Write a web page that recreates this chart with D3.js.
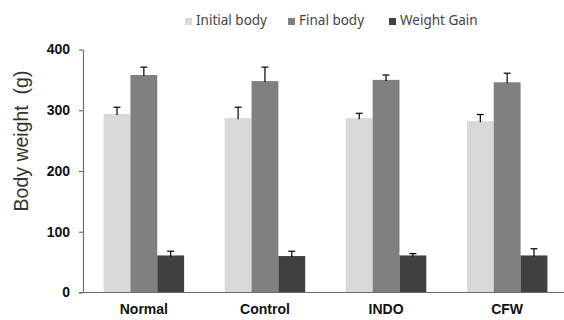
<!DOCTYPE html>
<html><head><meta charset="utf-8">
<script src="https://cdn.jsdelivr.net/npm/d3@7"></script>
<style>html,body{margin:0;padding:0;background:#fff;}svg{display:block;}</style>
</head><body>
<script>
const categories = ["Normal", "Control", "INDO", "CFW"];
const seriesNames = ["Initial body", "Final body", "Weight Gain"];
const initialBody = [294, 287, 287, 282];
const finalBody = [358, 348, 350, 346];
const weightGain = [61, 60, 61, 61];
const initialErr = [11, 18, 8, 11];
const finalErr = [13, 23, 8, 15];
const gainErr = [7, 8, 3, 11];
const yTicks = [0, 100, 200, 300, 400];
const colors = ["#d9d9d9", "#808080", "#404040"];

const values = [initialBody, finalBody, weightGain];
const errs = [initialErr, finalErr, gainErr];

const W = 564, H = 320;
const svg = d3.select("body").append("svg").attr("width", W).attr("height", H);

const y = d3.scaleLinear().domain([0, 400]).range([292.5, 49.5]);
const x0 = d3.scaleBand().domain(categories).range([83, 568]).paddingInner(0.335).paddingOuter(0.17);
const x1 = d3.scaleBand().domain(seriesNames).range([0, x0.bandwidth()]).padding(0);

// bars
const groups = svg.append("g").selectAll("g").data(categories).join("g")
  .attr("transform", d => `translate(${x0(d)},0)`);

seriesNames.forEach((s, si) => {
  groups.append("rect")
    .attr("x", x1(s))
    .attr("width", x1.bandwidth())
    .attr("y", (d, i) => y(values[si][i]))
    .attr("height", (d, i) => y(0) - y(values[si][i]))
    .attr("fill", colors[si]);
});

// error bars
seriesNames.forEach((s, si) => {
  const cx = x1(s) + x1.bandwidth() / 2;
  groups.append("line")
    .attr("x1", cx).attr("x2", cx)
    .attr("y1", (d, i) => y(values[si][i]) + 1)
    .attr("y2", (d, i) => y(values[si][i] + errs[si][i]))
    .attr("stroke", "#000").attr("stroke-width", 1.2);
  groups.append("line")
    .attr("x1", cx - 3.5).attr("x2", cx + 3.5)
    .attr("y1", (d, i) => y(values[si][i] + errs[si][i]))
    .attr("y2", (d, i) => y(values[si][i] + errs[si][i]))
    .attr("stroke", "#000").attr("stroke-width", 1.2);
});

// y axis
const yAxis = svg.append("g").attr("transform", "translate(83,0)")
  .call(d3.axisLeft(y).tickValues(yTicks).tickSize(4).tickSizeOuter(0).tickPadding(9));
yAxis.select(".domain").attr("stroke", "#6e6e6e").attr("stroke-width", 1.2);
yAxis.selectAll(".tick line").attr("stroke", "#6e6e6e").attr("stroke-width", 1.2);
yAxis.selectAll(".tick text")
  .attr("font-family", "Arial, 'Liberation Sans', sans-serif")
  .attr("font-weight", "bold").attr("font-size", 14).attr("fill", "#111");

// baseline
svg.append("line").attr("x1", 79).attr("x2", 564)
  .attr("y1", y(0)).attr("y2", y(0))
  .attr("stroke", "#6e6e6e").attr("stroke-width", 1.2);

// x labels
svg.append("g").selectAll("text").data(categories).join("text")
  .attr("x", d => x0(d) + x0.bandwidth() / 2)
  .attr("y", 314)
  .attr("text-anchor", "middle")
  .attr("font-family", "Arial, 'Liberation Sans', sans-serif")
  .attr("font-weight", "bold").attr("font-size", 14).attr("fill", "#111")
  .text(d => d);

// y title
svg.append("text")
  .attr("transform", "translate(28,141) rotate(-90)")
  .attr("text-anchor", "middle")
  .attr("font-family", "Arial, 'Liberation Sans', sans-serif")
  .attr("font-size", 19.5).attr("fill", "#333")
  .attr("xml:space", "preserve")
  .style("white-space", "pre")
  .text("Body weight  (g)");

// legend
const legendX = [185, 288, 389];
const lg = svg.append("g").selectAll("g").data(seriesNames).join("g")
  .attr("transform", (d, i) => `translate(${legendX[i]},0)`);
lg.append("rect").attr("x", 0).attr("y", 18).attr("width", 7).attr("height", 7)
  .attr("fill", (d, i) => colors[i]);
lg.append("text").attr("x", 11).attr("y", 25)
  .attr("font-family", "'Noto Sans', 'Open Sans', sans-serif")
  .attr("font-size", 13.5).attr("fill", "#444")
  .text(d => d);
</script>
</body></html>
